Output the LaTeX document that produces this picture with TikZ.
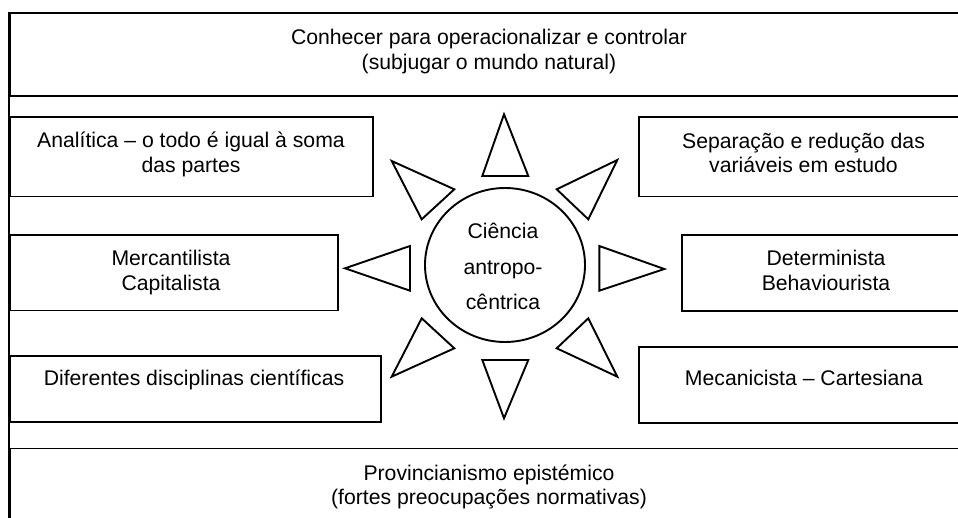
\documentclass[tikz,border=0pt]{standalone}
\usepackage{fontspec}
\setmainfont{Liberation Sans}
\usetikzlibrary{shapes.geometric}
\begin{document}
\begin{tikzpicture}[x=1pt,y=-1pt,
  box/.style={draw,line width=1.9pt,rectangle,inner sep=0pt,anchor=center},
  txt/.style={inner sep=0pt,anchor=base,font=\fontsize{21.2}{25}\selectfont},
  tri/.style={draw,line width=1.9pt,line join=miter,fill=white},
  circ/.style={draw,line width=1.9pt,ellipse,inner sep=0pt}]
\useasboundingbox (0,0) rectangle (958,518);
\clip (0,0) rectangle (958,518);
\fill[white] (0,0) rectangle (958,518);
% boxes
\node[box,minimum width=960pt,minimum height=83pt] (top) at (490,54.5) {};
\node[box,minimum width=960pt,minimum height=83pt] (bot) at (490,490) {};
\node[box,minimum width=362.7pt,minimum height=79.5pt] (anl) at (191.35,156.75) {};
\node[box,minimum width=328pt,minimum height=75.5pt] (mer) at (174,272.75) {};
\node[box,minimum width=371pt,minimum height=66pt] (dif) at (195.5,389) {};
\node[box,minimum width=329pt,minimum height=79.5pt] (sep) at (803.5,156.75) {};
\node[box,minimum width=288pt,minimum height=76pt] (det) at (826,273) {};
\node[box,minimum width=329pt,minimum height=76pt] (mec) at (803.5,385) {};
% left frame line
\draw[line width=2.2pt] (top.north west) -- (bot.south west);
% texts
\node[txt] (t1) at (489,44.3) {Conhecer para operacionalizar e controlar};
\node[txt] (t2) at (489,69.3) {(subjugar o mundo natural)};
\node[txt] (a1) at (191,147.7) {Analítica – o todo é igual à soma};
\node[txt] (a2) at (191,172.2) {das partes};
\node[txt] (s1) at (803.5,148.2) {Separação e redução das};
\node[txt] (s2) at (803.5,172.5) {variáveis em estudo};
\node[txt] (m1) at (171,266) {Mercantilista};
\node[txt] (m2) at (171,290.3) {Capitalista};
\node[txt] (d1) at (826,266) {Determinista};
\node[txt] (d2) at (826,290.3) {Behaviourista};
\node[txt] (f1) at (194,385.3) {Diferentes disciplinas científicas};
\node[txt] (c1) at (804,385.5) {Mecanicista – Cartesiana};
\node[txt] (b1) at (489,480.2) {Provincianismo epistémico};
\node[txt] (b2) at (489,504.8) {(fortes preocupações normativas)};
% centre
\node[circ,minimum width=160pt,minimum height=154pt] (cen) at (505,265) {};
\node[txt] (k1) at (503,238.3) {Ciência};
\node[txt] (k2) at (503,274.5) {antropo-};
\node[txt] (k3) at (503,310) {cêntrica};
% rays
\draw[tri] (504,114.3) -- (482.3,176) -- (528.3,176) -- cycle;
\draw[tri] (504,418.3) -- (482.3,360) -- (528.3,360) -- cycle;
\draw[tri] (345,268.3) -- (410,246) -- (410,290.7) -- cycle;
\draw[tri] (664.3,269) -- (599.3,246) -- (599.3,290.7) -- cycle;
\draw[tri] (391.7,161) -- (454.3,189.3) -- (421.7,219.3) -- cycle;
\draw[tri] (617.3,160) -- (556.7,189.3) -- (588.3,219.3) -- cycle;
\draw[tri] (391.7,376.7) -- (454.3,348.3) -- (421.7,318.3) -- cycle;
\draw[tri] (617.3,376.7) -- (556.7,348.3) -- (588.3,318.3) -- cycle;
\end{tikzpicture}
\end{document}
